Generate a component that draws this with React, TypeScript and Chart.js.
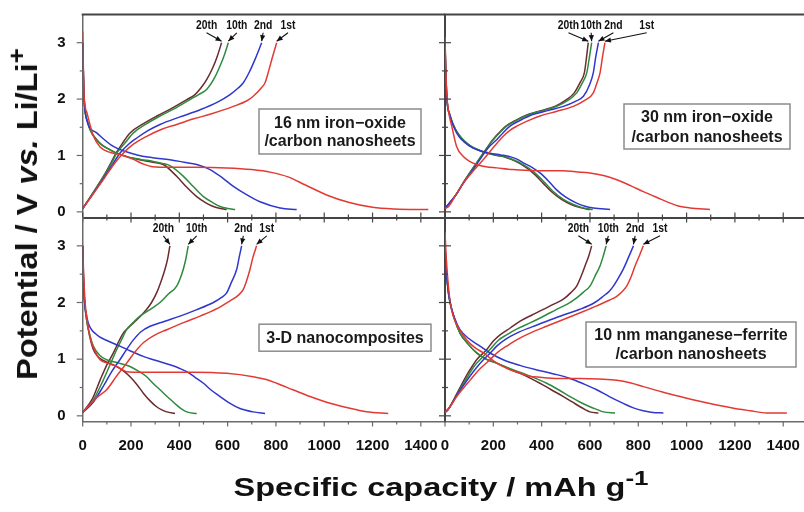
import React, { useEffect, useRef } from 'react';
import { Chart, registerables } from 'chart.js';

Chart.register(...registerables);

const FONT = '"Liberation Sans", Arial, Helvetica, sans-serif';

// ---------- labels / ticks ----------
const cycleNames = ['1st', '2nd', '10th', '20th'];
const cycleColors = ['#e23a33', '#2f37cc', '#2e8b3d', '#6b2b2f'];
const capacityTicks = [0, 100, 200, 300, 400, 500, 600, 700, 800, 900, 1000, 1100, 1200, 1300, 1400, 1500];
const capacityLabels = [0, 200, 400, 600, 800, 1000, 1200, 1400];
const potentialTicks = [0, 0.5, 1, 1.5, 2, 2.5, 3, 3.5];
const potentialLabels = [0, 1, 2, 3];

// ---------- 16 nm iron-oxide / carbon nanosheets ([capacity, potential]) ----------
const fe16_1st_dis = [[0, 3.2], [3, 2.5], [6, 2.05], [18, 1.75], [44, 1.35], [72, 1.15], [110, 1.06], [160, 1.01], [210, 0.93], [250, 0.85], [290, 0.8], [360, 0.79], [460, 0.79], [596, 0.78], [700, 0.75], [780, 0.7], [850, 0.62], [920, 0.48], [1010, 0.3], [1100, 0.17], [1200, 0.08], [1290, 0.05], [1431, 0.04]];
const fe16_1st_chg = [[0, 0.06], [40, 0.3], [90, 0.6], [130, 0.85], [168, 1.04], [210, 1.2], [265, 1.34], [330, 1.47], [389, 1.55], [460, 1.65], [527, 1.73], [624, 1.87], [680, 1.97], [706, 2.05], [740, 2.2], [755, 2.29], [770, 2.5], [784, 2.72], [803, 3.0]];
const fe16_2nd_dis = [[0, 3.0], [3, 2.4], [6, 2.0], [16, 1.64], [58, 1.4], [127, 1.16], [224, 1.01], [290, 0.96], [361, 0.925], [420, 0.88], [472, 0.84], [527, 0.75], [580, 0.6], [624, 0.45], [680, 0.3], [734, 0.18], [817, 0.07], [886, 0.04]];
const fe16_2nd_chg = [[0, 0.06], [40, 0.3], [90, 0.62], [125, 0.85], [154, 1.04], [190, 1.2], [224, 1.31], [270, 1.44], [320, 1.55], [400, 1.68], [486, 1.81], [560, 1.95], [610, 2.08], [645, 2.2], [665, 2.29], [690, 2.48], [713, 2.7], [741, 3.0]];
const fe16_10th_dis = [[0, 3.0], [3, 2.4], [6, 2.0], [20, 1.6], [58, 1.28], [113, 1.1], [182, 0.98], [240, 0.93], [292, 0.895], [330, 0.86], [361, 0.82], [417, 0.63], [460, 0.44], [500, 0.27], [540, 0.16], [569, 0.095], [600, 0.06], [631, 0.04]];
const fe16_10th_chg = [[0, 0.06], [40, 0.32], [90, 0.65], [120, 0.87], [141, 1.04], [175, 1.22], [210, 1.4], [260, 1.55], [320, 1.7], [380, 1.83], [444, 1.99], [480, 2.08], [513, 2.17], [545, 2.37], [569, 2.59], [588, 2.8], [603, 3.0]];
const fe16_20th_dis = [[0, 3.0], [3, 2.4], [6, 2.0], [20, 1.6], [58, 1.28], [113, 1.1], [182, 0.98], [240, 0.92], [290, 0.88], [334, 0.84], [389, 0.63], [430, 0.44], [472, 0.27], [510, 0.16], [541, 0.095], [570, 0.06], [596, 0.04]];
const fe16_20th_chg = [[0, 0.06], [40, 0.32], [90, 0.66], [118, 0.88], [138, 1.04], [165, 1.22], [196, 1.4], [250, 1.56], [307, 1.7], [370, 1.84], [431, 1.99], [465, 2.08], [490, 2.2], [515, 2.36], [538, 2.55], [558, 2.77], [575, 3.0]];

// ---------- 30 nm iron-oxide / carbon nanosheets ----------
const fe30_1st_dis = [[0, 3.1], [3, 2.6], [8, 2.05], [16, 1.75], [28, 1.52], [48, 1.16], [76, 0.98], [100, 0.9], [131, 0.84], [170, 0.8], [214, 0.78], [280, 0.75], [352, 0.735], [420, 0.73], [490, 0.73], [540, 0.71], [600, 0.69], [660, 0.64], [711, 0.57], [770, 0.46], [821, 0.36], [880, 0.25], [932, 0.155], [970, 0.1], [1014, 0.07], [1097, 0.04]];
const fe30_1st_chg = [[0, 0.06], [14, 0.09], [45, 0.3], [76, 0.51], [120, 0.74], [159, 0.93], [200, 1.14], [241, 1.34], [270, 1.45], [297, 1.52], [340, 1.61], [393, 1.7], [460, 1.78], [531, 1.87], [580, 1.98], [614, 2.11], [630, 2.3], [642, 2.47], [652, 2.75], [662, 3.0]];
const fe30_2nd_dis = [[0, 3.0], [3, 2.5], [8, 2.0], [21, 1.7], [48, 1.4], [104, 1.16], [186, 1.04], [230, 1.01], [269, 0.98], [300, 0.93], [324, 0.87], [360, 0.79], [393, 0.69], [430, 0.54], [462, 0.39], [500, 0.26], [545, 0.155], [580, 0.1], [614, 0.07], [683, 0.04]];
const fe30_2nd_chg = [[0, 0.06], [45, 0.3], [76, 0.51], [115, 0.74], [145, 0.93], [180, 1.14], [214, 1.28], [240, 1.4], [269, 1.52], [310, 1.62], [366, 1.73], [430, 1.8], [490, 1.87], [540, 1.96], [573, 2.05], [598, 2.25], [614, 2.47], [624, 2.75], [635, 3.0]];
const fe30_10th_dis = [[0, 3.0], [3, 2.5], [8, 2.0], [20, 1.72], [45, 1.45], [95, 1.2], [170, 1.05], [220, 1.0], [255, 0.97], [285, 0.92], [311, 0.87], [345, 0.78], [380, 0.66], [415, 0.51], [448, 0.36], [490, 0.22], [531, 0.13], [565, 0.08], [612, 0.04]];
const fe30_10th_chg = [[0, 0.06], [45, 0.3], [76, 0.52], [110, 0.74], [131, 0.87], [165, 1.08], [200, 1.28], [230, 1.42], [255, 1.52], [300, 1.63], [352, 1.73], [410, 1.8], [462, 1.87], [510, 1.98], [545, 2.11], [570, 2.3], [587, 2.47], [598, 2.75], [607, 3.0]];
const fe30_20th_dis = [[0, 3.0], [3, 2.5], [8, 2.0], [20, 1.72], [45, 1.45], [95, 1.2], [165, 1.05], [215, 1.0], [250, 0.97], [280, 0.92], [305, 0.87], [338, 0.78], [372, 0.66], [406, 0.51], [440, 0.36], [482, 0.22], [522, 0.13], [556, 0.08], [600, 0.04]];
const fe30_20th_chg = [[0, 0.06], [45, 0.3], [76, 0.52], [110, 0.74], [131, 0.87], [165, 1.08], [198, 1.28], [228, 1.42], [252, 1.52], [296, 1.63], [346, 1.73], [402, 1.8], [455, 1.87], [500, 1.98], [535, 2.11], [560, 2.3], [577, 2.47], [586, 2.75], [593, 3.0]];

// ---------- 3-D nanocomposites ----------
const nc3d_1st_dis = [[0, 3.0], [3, 2.6], [10, 2.0], [18, 1.7], [30, 1.4], [50, 1.15], [72, 0.99], [110, 0.92], [141, 0.87], [182, 0.78], [250, 0.77], [320, 0.77], [458, 0.77], [596, 0.75], [706, 0.69], [760, 0.64], [803, 0.575], [870, 0.46], [941, 0.34], [1010, 0.24], [1079, 0.16], [1130, 0.11], [1176, 0.07], [1265, 0.04]];
const nc3d_1st_chg = [[0, 0.06], [30, 0.2], [60, 0.33], [99, 0.46], [140, 0.7], [182, 0.93], [215, 1.12], [251, 1.29], [300, 1.43], [348, 1.52], [420, 1.65], [486, 1.76], [560, 1.9], [610, 2.03], [645, 2.13], [665, 2.23], [680, 2.4], [693, 2.59], [705, 2.8], [720, 3.0]];
const nc3d_2nd_dis = [[0, 3.0], [3, 2.5], [8, 2.0], [15, 1.8], [23, 1.64], [58, 1.43], [100, 1.33], [154, 1.23], [200, 1.14], [251, 1.05], [300, 0.98], [361, 0.9], [400, 0.84], [431, 0.78], [465, 0.68], [500, 0.575], [530, 0.46], [569, 0.34], [610, 0.22], [651, 0.13], [706, 0.07], [755, 0.04]];
const nc3d_2nd_chg = [[0, 0.06], [40, 0.22], [85, 0.52], [120, 0.78], [154, 0.99], [180, 1.16], [210, 1.34], [240, 1.48], [279, 1.58], [340, 1.67], [403, 1.76], [470, 1.87], [541, 2.0], [575, 2.09], [596, 2.17], [615, 2.35], [638, 2.59], [648, 2.8], [658, 3.0]];
const nc3d_10th_dis = [[0, 3.0], [3, 2.4], [8, 2.0], [16, 1.7], [28, 1.45], [44, 1.23], [70, 1.07], [99, 0.99], [150, 0.93], [196, 0.87], [230, 0.79], [265, 0.69], [290, 0.58], [320, 0.46], [355, 0.32], [389, 0.19], [410, 0.12], [431, 0.07], [472, 0.04]];
const nc3d_10th_chg = [[0, 0.06], [40, 0.25], [85, 0.63], [115, 0.92], [141, 1.17], [165, 1.38], [182, 1.52], [210, 1.65], [237, 1.76], [280, 1.88], [320, 2.0], [355, 2.15], [389, 2.29], [410, 2.5], [424, 2.71], [437, 3.0]];
const nc3d_20th_dis = [[0, 3.0], [3, 2.4], [8, 2.0], [16, 1.7], [28, 1.42], [44, 1.17], [60, 1.06], [79, 0.99], [110, 0.93], [141, 0.87], [170, 0.79], [196, 0.69], [225, 0.55], [251, 0.4], [280, 0.26], [306, 0.16], [330, 0.1], [348, 0.07], [382, 0.04]];
const nc3d_20th_chg = [[0, 0.06], [40, 0.3], [72, 0.63], [100, 0.9], [127, 1.11], [150, 1.32], [168, 1.46], [190, 1.56], [210, 1.64], [240, 1.76], [265, 1.88], [285, 2.0], [306, 2.17], [325, 2.38], [341, 2.59], [352, 2.78], [361, 3.0]];

// ---------- 10 nm manganese-ferrite / carbon nanosheets ----------
const mf10_1st_dis = [[0, 3.25], [5, 2.8], [14, 2.29], [22, 2.0], [34, 1.76], [60, 1.52], [90, 1.34], [125, 1.2], [159, 1.11], [214, 0.93], [260, 0.83], [311, 0.75], [350, 0.7], [393, 0.68], [470, 0.66], [559, 0.66], [640, 0.65], [711, 0.63], [770, 0.58], [821, 0.515], [900, 0.42], [973, 0.34], [1050, 0.26], [1125, 0.19], [1200, 0.13], [1263, 0.09], [1332, 0.05], [1415, 0.05]];
const mf10_1st_chg = [[0, 0.06], [14, 0.12], [50, 0.35], [104, 0.63], [145, 0.83], [186, 0.99], [220, 1.13], [255, 1.23], [300, 1.35], [352, 1.46], [420, 1.58], [490, 1.7], [560, 1.82], [628, 1.94], [680, 2.04], [711, 2.11], [735, 2.2], [752, 2.29], [770, 2.45], [787, 2.65], [805, 2.83], [821, 3.0]];
const mf10_2nd_dis = [[0, 3.0], [5, 2.6], [12, 2.25], [21, 2.0], [40, 1.72], [62, 1.52], [100, 1.36], [145, 1.23], [190, 1.1], [241, 0.99], [310, 0.89], [380, 0.81], [450, 0.74], [518, 0.66], [570, 0.57], [628, 0.46], [680, 0.34], [738, 0.22], [780, 0.14], [821, 0.09], [860, 0.06], [904, 0.05]];
const mf10_2nd_chg = [[0, 0.06], [14, 0.12], [50, 0.37], [100, 0.68], [130, 0.85], [159, 0.99], [190, 1.12], [214, 1.23], [250, 1.35], [297, 1.46], [360, 1.57], [421, 1.67], [490, 1.78], [559, 1.88], [620, 2.0], [655, 2.11], [680, 2.2], [697, 2.29], [720, 2.45], [738, 2.59], [760, 2.8], [780, 3.0]];
const mf10_10th_dis = [[0, 3.0], [5, 2.6], [12, 2.25], [21, 2.0], [40, 1.7], [62, 1.46], [95, 1.27], [131, 1.11], [170, 1.0], [214, 0.93], [270, 0.83], [324, 0.75], [375, 0.66], [421, 0.575], [470, 0.46], [518, 0.34], [560, 0.24], [600, 0.16], [630, 0.11], [655, 0.07], [704, 0.05]];
const mf10_10th_chg = [[0, 0.06], [14, 0.12], [50, 0.38], [95, 0.7], [120, 0.87], [145, 0.99], [186, 1.17], [220, 1.33], [255, 1.43], [300, 1.54], [352, 1.64], [400, 1.74], [462, 1.88], [510, 1.98], [545, 2.08], [575, 2.19], [600, 2.29], [625, 2.5], [642, 2.65], [655, 2.82], [667, 3.0]];
const mf10_20th_dis = [[0, 3.0], [5, 2.6], [12, 2.25], [21, 2.0], [40, 1.7], [62, 1.46], [95, 1.27], [131, 1.11], [170, 1.0], [214, 0.93], [265, 0.83], [311, 0.75], [350, 0.67], [393, 0.575], [440, 0.46], [490, 0.34], [525, 0.25], [559, 0.16], [580, 0.11], [600, 0.07], [635, 0.05]];
const mf10_20th_chg = [[0, 0.06], [14, 0.12], [50, 0.4], [90, 0.72], [112, 0.87], [131, 0.99], [173, 1.17], [200, 1.32], [228, 1.43], [270, 1.55], [311, 1.67], [360, 1.78], [407, 1.88], [450, 1.97], [490, 2.06], [520, 2.17], [545, 2.29], [565, 2.48], [580, 2.65], [595, 2.82], [607, 3.0]];

// ---------- panel layout ----------
const DIV = '#444';
const AXIS = '#6a6a6a';

const panels = [
  {
    id: 'fe16', text: ['16 nm iron\u2212oxide', '/carbon nanosheets'],
    series: [[fe16_1st_dis, fe16_1st_chg], [fe16_2nd_dis, fe16_2nd_chg], [fe16_10th_dis, fe16_10th_chg], [fe16_20th_dis, fe16_20th_chg]],
    area: { l: 82.7, t: 14.5, r: 445, b: 217.5 }, xMax: 1500, xLabels: false, yLabels: true, topBorder: true,
    xTick: 'both', yTick: 'out', xBorder: [DIV, 2], yBorder: [AXIS, 1.5],
    labelCap: [850, 747, 638, 513], box: { cx: 340, cy: 131.5, w: 162, h: 45, gap: 18.4 },
  },
  {
    id: 'fe30', text: ['30 nm iron\u2212oxide', '/carbon nanosheets'],
    series: [[fe30_1st_dis, fe30_1st_chg], [fe30_2nd_dis, fe30_2nd_chg], [fe30_10th_dis, fe30_10th_chg], [fe30_20th_dis, fe30_20th_chg]],
    area: { l: 445, t: 14.5, r: 804, b: 217.5 }, xMax: 1486, xLabels: false, yLabels: false, topBorder: true,
    xTick: 'both', yTick: 'both', xBorder: [DIV, 2], yBorder: [DIV, 2],
    labelCap: [835, 697, 605, 511], box: { cx: 707, cy: 126.5, w: 166, h: 45, gap: 19.4 },
  },
  {
    id: 'nc3d', text: ['3-D nanocomposites'],
    series: [[nc3d_1st_dis, nc3d_1st_chg], [nc3d_2nd_dis, nc3d_2nd_chg], [nc3d_10th_dis, nc3d_10th_chg], [nc3d_20th_dis, nc3d_20th_chg]],
    area: { l: 82.7, t: 217.5, r: 445, b: 421.5 }, xMax: 1500, xLabels: true, yLabels: true, topBorder: false,
    xTick: 'out', yTick: 'out', xBorder: [AXIS, 1.5], yBorder: [AXIS, 1.5],
    labelCap: [762, 665, 472, 334], box: { cx: 345, cy: 337.7, w: 172, h: 27, gap: 0 },
  },
  {
    id: 'mf10', text: ['10 nm manganese\u2212ferrite', '/carbon nanosheets'],
    series: [[mf10_1st_dis, mf10_1st_chg], [mf10_2nd_dis, mf10_2nd_chg], [mf10_10th_dis, mf10_10th_chg], [mf10_20th_dis, mf10_20th_chg]],
    area: { l: 445, t: 217.5, r: 804, b: 421.5 }, xMax: 1486, xLabels: true, yLabels: false, topBorder: false,
    xTick: 'out', yTick: 'both', xBorder: [AXIS, 1.5], yBorder: [DIV, 2],
    labelCap: [890, 787, 676, 552], box: { cx: 691, cy: 344.5, w: 210, h: 45, gap: 19 },
  },
];

const LABEL_V = 3.3;

const decorPlugin = {
  id: 'decor',
  afterDraw(chart: any, _args: any, o: any) {
    const { ctx, chartArea: a } = chart;
    const x = chart.scales.x;
    const y = chart.scales.y;
    ctx.save();
    const line = (x1: number, y1: number, x2: number, y2: number) => {
      ctx.beginPath(); ctx.moveTo(x1, y1); ctx.lineTo(x2, y2); ctx.stroke();
    };
    // top frame
    if (o.topBorder) {
      ctx.strokeStyle = DIV; ctx.lineWidth = 2.2;
      line(a.left - 1, a.top, a.right, a.top);
    }
    // tick marks
    ctx.lineWidth = 1.2;
    ctx.strokeStyle = o.xBorder[0];
    x.ticks.forEach((t: any) => {
      if (t.value >= x.max - 1e-9) return;
      const major = capacityLabels.includes(t.value);
      const len = major ? 5 : 3;
      const px = x.getPixelForValue(t.value);
      const yb = a.bottom;
      line(px, o.xTick === 'both' ? yb - len : yb, px, yb + len);
    });
    ctx.strokeStyle = o.yBorder[0];
    y.ticks.forEach((t: any) => {
      if (t.value >= y.max - 1e-9) return;
      const major = potentialLabels.includes(t.value);
      const len = major ? 6 : 3;
      const py = y.getPixelForValue(t.value);
      const xl = a.left;
      line(xl - len, py, o.yTick === 'both' ? xl + len : xl, py);
    });
    // cycle labels + arrows
    ctx.fillStyle = '#111';
    ctx.strokeStyle = '#111';
    ctx.textAlign = 'center';
    ctx.textBaseline = 'middle';
    o.labelCap.forEach((cap: number, i: number) => {
      const ds = chart.data.datasets[2 * i + 1];
      const last = ds.data[ds.data.length - 1];
      const ex = x.getPixelForValue(last.x);
      const ey = y.getPixelForValue(last.y) - 1.5;
      const lx = x.getPixelForValue(cap);
      const ly = y.getPixelForValue(LABEL_V);
      ctx.save();
      ctx.translate(lx, ly);
      ctx.scale(0.86, 1);
      ctx.font = `bold 12px ${FONT}`;
      ctx.fillText(cycleNames[i], 0, 0);
      ctx.restore();
      const sx = lx;
      const sy = ly + 7;
      ctx.lineWidth = 1.1;
      line(sx, sy, ex, ey);
      const ang = Math.atan2(ey - sy, ex - sx);
      const hl = 6, hw = 2.6;
      ctx.beginPath();
      ctx.moveTo(ex, ey);
      ctx.lineTo(ex - hl * Math.cos(ang) + hw * Math.sin(ang), ey - hl * Math.sin(ang) - hw * Math.cos(ang));
      ctx.lineTo(ex - hl * Math.cos(ang) - hw * Math.sin(ang), ey - hl * Math.sin(ang) + hw * Math.cos(ang));
      ctx.closePath();
      ctx.fill();
    });
    // sample name box
    const b = o.box;
    ctx.fillStyle = '#fff';
    ctx.fillRect(b.cx - b.w / 2, b.cy - b.h / 2, b.w, b.h);
    ctx.strokeStyle = '#8c8c8c';
    ctx.lineWidth = 1.5;
    ctx.strokeRect(b.cx - b.w / 2, b.cy - b.h / 2, b.w, b.h);
    ctx.fillStyle = '#1a1a1a';
    ctx.font = `bold 16px ${FONT}`;
    const n = o.text.length;
    o.text.forEach((s: string, k: number) => {
      ctx.fillText(s, b.cx, b.cy + (k - (n - 1) / 2) * b.gap + 1);
    });
    ctx.restore();
  },
};

function makeConfig(p: any) {
  const a = p.area;
  const yW = p.yLabels ? 40 : 10;
  const xH = p.xLabels ? 40 : 10;
  const datasets: any[] = [];
  p.series.forEach((pair: number[][][], i: number) => {
    pair.forEach((pts, k) => {
      datasets.push({
        label: `${cycleNames[i]} ${k ? 'charge' : 'discharge'}`,
        data: pts.map(([cx, v]) => ({ x: cx, y: v })),
        borderColor: cycleColors[i],
        backgroundColor: cycleColors[i],
        borderWidth: 1.5,
        pointRadius: 0,
        fill: false,
        cubicInterpolationMode: 'monotone',
      });
    });
  });
  const tickFont = { family: FONT, size: 15, weight: 'bold' };
  return {
    type: 'line',
    data: { datasets },
    options: {
      animation: false,
      responsive: false,
      maintainAspectRatio: false,
      events: [],
      layout: { padding: { left: a.l - yW, top: a.t, right: 804 - a.r, bottom: 512 - a.b - xH } },
      plugins: {
        legend: { display: false },
        tooltip: { enabled: false },
        decor: {
          topBorder: p.topBorder, xTick: p.xTick, yTick: p.yTick, xBorder: p.xBorder, yBorder: p.yBorder,
          labelCap: p.labelCap, box: p.box, text: p.text,
        },
      },
      scales: {
        x: {
          type: 'linear', position: 'bottom', min: 0, max: p.xMax, bounds: 'data',
          afterBuildTicks: (s: any) => { s.ticks = capacityTicks.filter((v) => v <= p.xMax).map((v) => ({ value: v })); },
          afterFit: (s: any) => { s.height = xH; s.paddingLeft = 0; s.paddingRight = 0; },
          ticks: {
            display: p.xLabels, autoSkip: false, maxRotation: 0, minRotation: 0, padding: 15, color: '#111', font: tickFont,
            callback: (v: number) => (capacityLabels.includes(v) ? String(v) : ''),
          },
          grid: { display: false, drawTicks: false },
          border: { display: true, color: p.xBorder[0], width: p.xBorder[1] },
        },
        y: {
          type: 'linear', position: 'left', min: -0.1, max: 3.5, bounds: 'data',
          afterBuildTicks: (s: any) => { s.ticks = potentialTicks.map((v) => ({ value: v })); },
          afterFit: (s: any) => { s.width = yW; s.paddingTop = 0; s.paddingBottom = 0; },
          ticks: {
            display: p.yLabels, autoSkip: false, padding: 17, color: '#111', font: tickFont,
            callback: (v: number) => (potentialLabels.includes(v) ? String(v) : ''),
          },
          grid: { display: false, drawTicks: false },
          border: { display: true, color: p.yBorder[0], width: p.yBorder[1] },
        },
      },
    },
    plugins: [decorPlugin],
  };
}

export default function App() {
  const r0 = useRef<HTMLCanvasElement>(null);
  const r1 = useRef<HTMLCanvasElement>(null);
  const r2 = useRef<HTMLCanvasElement>(null);
  const r3 = useRef<HTMLCanvasElement>(null);
  const refs = [r0, r1, r2, r3];

  useEffect(() => {
    const charts = panels.map((p, i) => new Chart(refs[i].current as HTMLCanvasElement, makeConfig(p) as any));
    return () => charts.forEach((c) => c.destroy());
  }, []);

  return (
    <div style={{ position: 'absolute', left: 0, top: 0, width: 804, height: 512, background: '#fff', overflow: 'hidden', fontFamily: FONT, color: '#111' }}>
      {panels.map((p, i) => (
        <canvas key={p.id} ref={refs[i]} width={804} height={512} style={{ position: 'absolute', left: 0, top: 0, width: 804, height: 512 }} />
      ))}
      <div
        style={{
          position: 'absolute', left: 28, top: 214, whiteSpace: 'nowrap', fontWeight: 'bold', fontSize: 30, lineHeight: '34px',
          transform: 'translate(-50%, -50%) rotate(-90deg) scaleX(1.085)',
        }}
      >
        Potential / V <i>vs.</i> Li/Li<span style={{ fontSize: '0.8em', position: 'relative', top: '-0.5em' }}>+</span>
      </div>
      <div
        style={{
          position: 'absolute', left: 441, top: 488, whiteSpace: 'nowrap', fontWeight: 'bold', fontSize: 26, lineHeight: '30px',
          transform: 'translate(-50%, -50%) scaleX(1.25)',
        }}
      >
        Specific capacity / mAh g<span style={{ fontSize: '0.8em', position: 'relative', top: '-0.55em' }}>-1</span>
      </div>
    </div>
  );
}
